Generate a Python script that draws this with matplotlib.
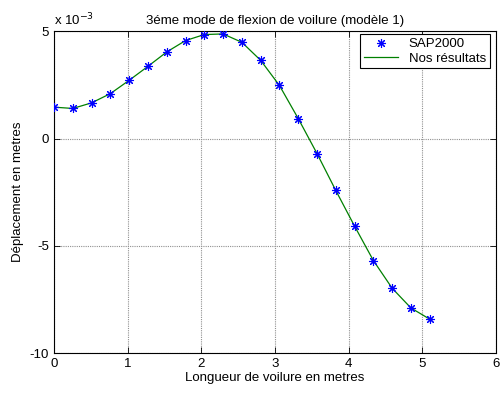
import matplotlib
matplotlib.use("Agg")
import matplotlib.pyplot as plt

plt.rcParams['font.family'] = ['Liberation Sans', 'DejaVu Sans']

# data (displacement in units of 1e-3 m)
x_vals = [0.0, 0.255, 0.51, 0.765, 1.02, 1.275, 1.53, 1.785, 2.04, 2.295, 2.55,
          2.805, 3.06, 3.315, 3.57, 3.825, 4.08, 4.335, 4.59, 4.845, 5.1]
sap_vals = [1.46, 1.40, 1.66, 2.09, 2.71, 3.36, 4.03, 4.56, 4.84, 4.87, 4.48,
            3.64, 2.47, 0.93, -0.70, -2.42, -4.08, -5.68, -6.97, -7.89, -8.41]
nos_vals = [1.46, 1.40, 1.66, 2.09, 2.71, 3.36, 4.03, 4.56, 4.84, 4.87, 4.48,
            3.64, 2.47, 0.93, -0.70, -2.42, -4.08, -5.68, -6.97, -7.89, -8.41]
x_ticks = [0, 1, 2, 3, 4, 5, 6]
y_ticks = [-10, -5, 0, 5]

fig = plt.figure(figsize=(5.02, 3.94), dpi=100)
ax = fig.add_axes([0.1076, 0.1033, 0.8805, 0.8177])

l_nos, = ax.plot(x_vals, nos_vals, color='#008000', linewidth=0.9,
                 label='Nos résultats', zorder=2)
l_sap, = ax.plot(x_vals, sap_vals, linestyle='none', marker=(8, 2, 0), color='#0000ff',
                 markersize=6.5, markeredgewidth=0.8, label='SAP2000', zorder=3)

ax.set_xlim(0, 6)
ax.set_ylim(-10, 5)
ax.set_xticks(x_ticks)
ax.set_yticks(y_ticks)
ax.set_xticklabels([str(t) for t in x_ticks])
ax.set_yticklabels([str(t) for t in y_ticks])
ax.tick_params(direction='in', top=True, right=True, labelsize=9.5, length=4, width=0.6)
ax.grid(True, color='#909090', linestyle=(0, (1, 1)), linewidth=0.8)
for s in ax.spines.values():
    s.set_linewidth(0.8)

ax.set_title('3éme mode de flexion de voilure (modèle 1)', fontsize=9.5, pad=5)
ax.set_xlabel('Longueur de voilure en metres', fontsize=9.5, labelpad=1)
ax.set_ylabel('Déplacement en metres', fontsize=9.5, labelpad=4)
ax.text(0.0, 1.01, r'x 10$^{-3}$', transform=ax.transAxes, fontsize=9.5,
        ha='left', va='bottom')

leg = ax.legend([l_sap, l_nos], ['SAP2000', 'Nos résultats'], loc='upper right',
                bbox_to_anchor=(0.9864, 0.9907), fontsize=9.5,
                frameon=True, fancybox=False, framealpha=1, edgecolor='black',
                borderpad=0.3, handlelength=2.6, labelspacing=0.15, borderaxespad=0)
leg.get_frame().set_linewidth(0.8)

fig.savefig('out.png', dpi=100)
